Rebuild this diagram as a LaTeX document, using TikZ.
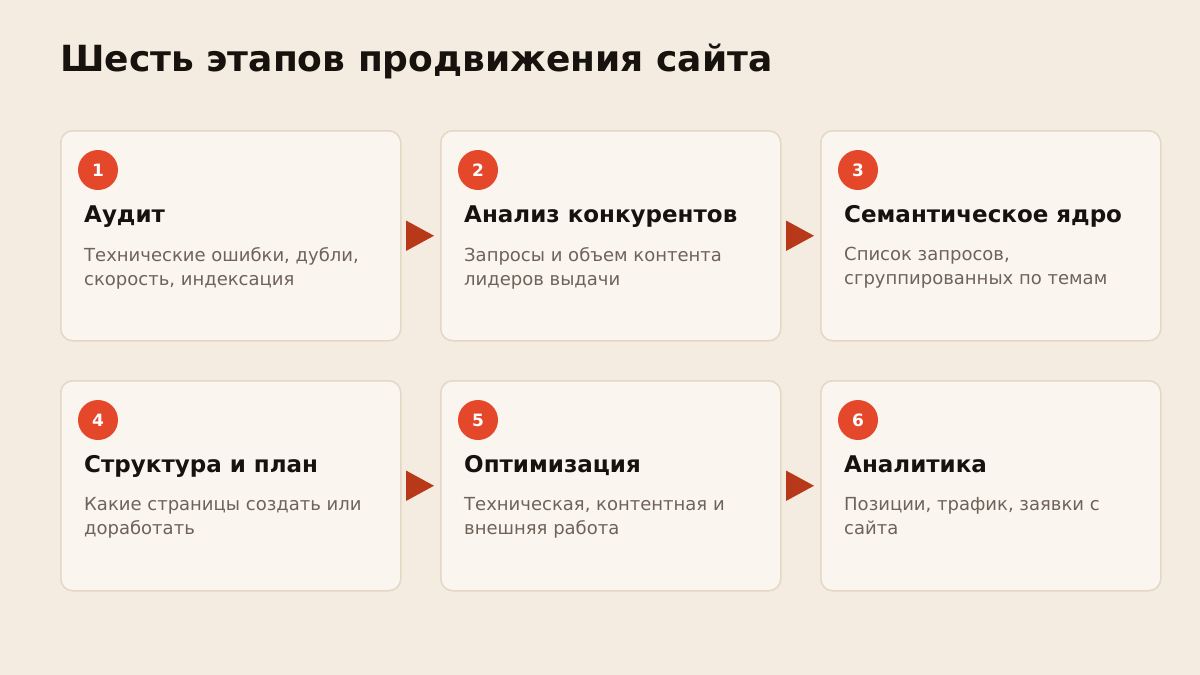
\documentclass[tikz,border=0pt]{standalone}
\usepackage{fontspec}
\setmainfont{DejaVu Sans}
\usetikzlibrary{arrows.meta}
\definecolor{bg}{HTML}{F4ECE1}
\definecolor{card}{HTML}{FAF6EF}
\definecolor{cardline}{HTML}{E4D7C5}
\definecolor{badge}{HTML}{E4472A}
\definecolor{arrowc}{HTML}{B8391A}
\definecolor{ink}{HTML}{17120E}
\definecolor{muted}{HTML}{6E6259}
\tikzset{
  cardbox/.style={draw=cardline, line width=1.5pt, fill=card, rounded corners=12pt,
    minimum width=340pt, minimum height=210pt, inner sep=0pt, anchor=north west},
  badgec/.style={circle, fill=badge, minimum size=40pt, inner sep=0pt,
    text=white, font=\fontsize{17pt}{17pt}\selectfont\bfseries},
  headt/.style={anchor=base west, inner sep=0pt, text=ink, font=\fontsize{23pt}{23pt}\selectfont\bfseries},
  desct/.style={anchor=north west, inner sep=0pt, text=muted, align=left,
    font=\fontsize{18pt}{24pt}\selectfont},
  flow/.style={draw=arrowc, line width=2pt, -{Triangle[length=28pt,width=30pt]}},
}
\begin{document}
\begin{tikzpicture}[x=1pt,y=-1pt]
\useasboundingbox[fill=bg] (0,0) rectangle (1200,675);
\node[anchor=base west, inner sep=0pt, text=ink, font=\fontsize{36pt}{36pt}\selectfont\bfseries] (title) at (60,71) {Шесть этапов продвижения сайта};
% cards
\foreach \n/\x/\y in {1/60/130,2/440/130,3/820/130,4/60/380,5/440/380,6/820/380}{
  \node[cardbox] (c\n) at (\x,\y) {};
  \node[badgec] (b\n) at (\x+38,\y+40) {\n};
}
\node[headt] (h1) at (84,222) {Аудит};
\node[headt] (h2) at (464,222) {Анализ конкурентов};
\node[headt] (h3) at (844,222) {Семантическое ядро};
\node[headt] (h4) at (84,472) {Структура и план};
\node[headt] (h5) at (464,472) {Оптимизация};
\node[headt] (h6) at (844,472) {Аналитика};
\node[desct] (d1) at (84,247) {Технические ошибки, дубли,\\скорость, индексация};
\node[desct] (d2) at (464,247) {Запросы и объем контента\\лидеров выдачи};
\node[desct] (d3) at (844,247) {Список запросов,\\сгруппированных по темам};
\node[desct] (d4) at (84,497) {Какие страницы создать или\\доработать};
\node[desct] (d5) at (464,497) {Техническая, контентная и\\внешняя работа};
\node[desct] (d6) at (844,497) {Позиции, трафик, заявки с\\сайта};
% arrows
\draw[flow] ([xshift=4pt]c1.east) -- ([xshift=-6pt]c2.west);
\draw[flow] ([xshift=4pt]c2.east) -- ([xshift=-6pt]c3.west);
\draw[flow] ([xshift=4pt]c4.east) -- ([xshift=-6pt]c5.west);
\draw[flow] ([xshift=4pt]c5.east) -- ([xshift=-6pt]c6.west);
\end{tikzpicture}
\end{document}
